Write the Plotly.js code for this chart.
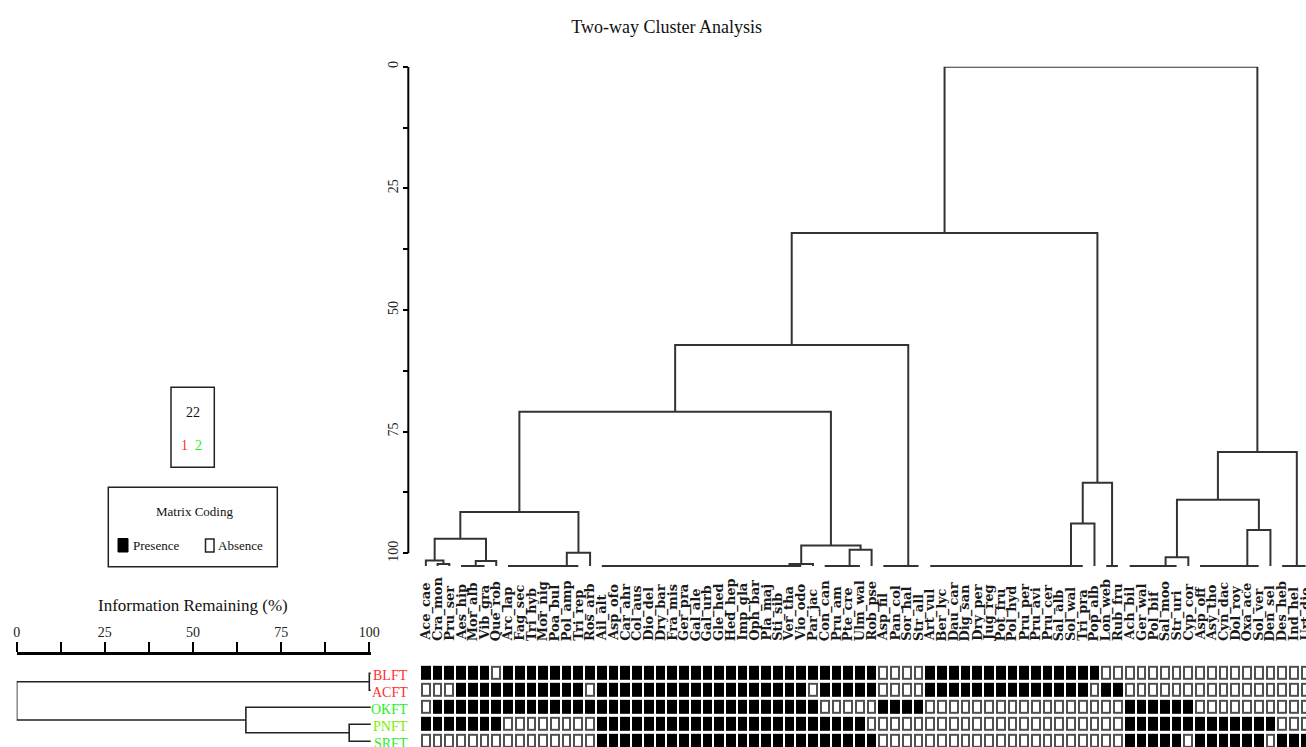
<!DOCTYPE html>
<html><head><meta charset="utf-8">
<script src="https://cdn.plot.ly/plotly-3.0.1.min.js"></script>
<style>html,body{margin:0;padding:0;background:#fff;}#chart{width:1306px;height:747px;}</style>
</head><body><div id="chart"></div>
<script>
// ---------- DATA ----------
const speciesNames = [
 'Ace_cae','Cra_mon','Pru_ser','Aes_hip','Mor_alb','Vib_gra','Que_rob','Arc_lap','Fag_sec','Tri_hyb',
 'Mor_nig','Poa_bul','Pol_amp','Tri_rep','Ros_arb','Ail_alt','Asp_ofo','Car_ahr','Col_aus','Dio_del',
 'Dry_bar','Fra_mis','Ger_pra','Gal_ale','Gal_urb','Gle_hed','Hed_hep','Imp_gla','Oph_bar','Pla_maj',
 'Sti_sib','Ver_tha','Vio_odo','Par_jac','Con_can','Pru_am','Pte_cre','Ulm_wal','Rob_pse','Asp_fil',
 'Pan_col','Sor_hal','Str_all','Art_vul','Ber_lyc','Dau_car','Dig_san','Dry_per','Jug_reg','Pot_fru',
 'Pol_hyd','Pru_per','Pru_avi','Pru_cer','Sal_alb','Sol_wal','Tri_pra','Pop_alb','Lon_web','Rub_fru',
 'Ach_bil','Ger_wal','Pol_bif','Sal_moo','Str_uri','Cyp_cor','Asp_off','Asy_tho','Cyn_dac','Dol_roy',
 'Oxa_ace','Sol_ver','Den_sel','Des_heb','Ind_hel','Urt_dio'
];
const siteNames  = ['BLFT','ACFT','OKFT','PNFT','SRFT'];
const siteColors = ['#ff2e2e','#ff2e2e','#1fef1f','#7ded00','#1fef1f'];

// presence (1) / absence (0) matrix, rows = sites, cols = species
const presBLFT = [1,1,1,1,1,1,0,1,1,1, 1,1,1,1,1,1,1,1,1,1, 1,1,1,1,1,1,1,1,1,1, 1,1,1,1,1,1,1,1,1,0, 0,0,0,1,1,1,1,1,1,1, 1,1,1,1,1,1,1,1,0,0, 0,0,0,0,0,0,0,0,0,0, 0,0,0,0,0,0];
const presACFT = [0,0,0,1,1,1,1,1,1,1, 1,1,1,1,0,1,1,1,1,1, 1,1,1,1,1,1,1,1,1,1, 1,1,1,0,1,1,1,1,1,0, 0,0,0,1,1,1,1,1,1,1, 1,1,1,1,1,1,1,0,1,1, 0,0,0,0,0,0,0,0,0,0, 0,0,0,0,0,0];
const presOKFT = [0,1,1,1,1,1,1,1,1,1, 1,1,1,1,1,1,1,1,1,1, 1,1,1,1,1,1,1,1,1,1, 1,1,1,1,0,0,0,0,0,1, 1,1,1,0,0,0,0,0,0,0, 0,0,0,0,0,0,0,0,0,0, 1,1,1,1,1,1,0,0,0,0, 0,0,0,0,0,0];
const presPNFT = [1,1,1,1,1,1,1,0,0,0, 0,0,0,0,0,1,1,1,1,1, 1,1,1,1,1,1,1,1,1,1, 1,1,1,1,1,1,1,1,0,0, 0,0,0,0,0,0,0,0,0,0, 0,0,0,0,0,0,0,0,0,0, 1,1,1,1,1,1,1,1,1,1, 1,1,1,0,0,0];
const presSRFT = [0,0,0,0,0,0,0,0,0,0, 0,0,0,0,0,1,1,1,1,1, 1,1,1,1,1,1,1,1,1,1, 1,1,1,1,1,1,1,1,1,0, 0,0,0,0,0,0,0,0,0,0, 0,0,0,0,0,0,0,0,0,0, 1,1,1,1,1,0,1,1,1,1, 1,1,0,1,1,1];

// species dendrogram (y = distance value as drawn, 0 at top)
const leafLevel = 102.6;
const chainFirst = [3, 7, 15, 34, 39, 43, 58, 60, 66, 73];
const chainLast  = [5, 13, 32, 37, 42, 56, 59, 64, 71, 75];
const mergeA = ['L1','L0','c0','m1','c1','m3','c2','c3','m6','m5','m9','c5','m11','m10','c7','c8','m14','m16','m13'];
const mergeB = ['L2','m0','L6','m2','L14','m4','L33','L38','m7','m8','c4','L57','c6','m12','L65','L72','m15','c9','m17'];
const mergeH = [102.2,101.5,101.6,97.0,99.9,91.5,102.2,99.3,98.4,70.9,57.2,93.9,85.5,34.2,100.8,95.2,89.0,79.2,0];

// site dendrogram (Information Remaining %)
const rowLeafLevel = 100.4;
const rowMergeA = ['L0','L3','L2','m0'];
const rowMergeB = ['L1','L4','m1','m2'];
const rowMergeH = [100.0, 94.3, 65.0, 0];

const infoTicks = [0, 25, 50, 75, 100];
const distTicks = [0, 25, 50, 75, 100];

// ---------- BUILD ----------
const W = 1306, H = 747;
const px = v => v / W;
const py = v => 1 - v / H;
const serif = 'Liberation Serif, Times New Roman, serif';

const chainPos = chainFirst.map((f, k) => { let p = f; for (let i = f + 1; i <= chainLast[k]; i++) p = (p + i) / 2; return p; });
const mergePos = [];
function nodeOf(ref) {
  const t = ref[0], i = +ref.slice(1);
  if (t === 'L') return { x: i, h: leafLevel };
  if (t === 'c') return { x: chainPos[i], h: leafLevel };
  return mergePos[i];
}
const dx = [], dy = [];
chainFirst.forEach((f, k) => { dx.push(f, chainLast[k], null); dy.push(leafLevel, leafLevel, null); });
mergeH.forEach((h, k) => {
  const a = nodeOf(mergeA[k]), b = nodeOf(mergeB[k]);
  dx.push(a.x, a.x, b.x, b.x, null); dy.push(a.h, h, h, b.h, null);
  mergePos.push({ x: (a.x + b.x) / 2, h: h });
});

const rowPos = [];
function rowNode(ref) {
  const t = ref[0], i = +ref.slice(1);
  if (t === 'L') return { y: i, v: rowLeafLevel };
  return rowPos[i];
}
const rx = [], ry = [];
rowMergeH.forEach((h, k) => {
  const a = rowNode(rowMergeA[k]), b = rowNode(rowMergeB[k]);
  rx.push(a.v, h, h, b.v, null); ry.push(a.y, a.y, b.y, b.y, null);
  rowPos.push({ y: (a.y + b.y) / 2, v: h });
});

const matrix = [presBLFT, presACFT, presOKFT, presPNFT, presSRFT];
const colIdx = speciesNames.map((_, i) => i);
const rowIdx = siteNames.map((_, i) => i);

const traces = [
  { type: 'scatter', mode: 'lines', x: dx, y: dy, xaxis: 'x', yaxis: 'y',
    line: { color: '#333', width: 2 }, hoverinfo: 'skip' },
  { type: 'heatmap', x: colIdx, y: rowIdx, z: matrix, xaxis: 'x2', yaxis: 'y2',
    zmin: 0, zmax: 1, colorscale: [[0, '#505050'], [1, '#000000']], showscale: false,
    xgap: 2, ygap: 3, hoverinfo: 'skip' },
  { type: 'heatmap', x: colIdx, y: rowIdx, z: matrix, xaxis: 'x2', yaxis: 'y2',
    zmin: 0, zmax: 1, colorscale: [[0, '#ffffff'], [1, '#000000']], showscale: false,
    xgap: 6, ygap: 7, hoverinfo: 'skip' },
  { type: 'scatter', mode: 'lines', x: rx, y: ry, xaxis: 'x3', yaxis: 'y2',
    line: { color: '#222', width: 1.6 }, hoverinfo: 'skip' }
];

function note(text, x, y, size, color, xanchor) {
  return { text: text, xref: 'paper', yref: 'paper', x: px(x), y: py(y),
           xanchor: xanchor || 'center', yanchor: 'middle', showarrow: false,
           font: { family: serif, size: size, color: color } };
}

const annotations = [];
speciesNames.forEach((n, i) => annotations.push({
  text: n, xref: 'x', x: i, yref: 'paper', y: py(643), xanchor: 'center', yanchor: 'bottom',
  textangle: -90, showarrow: false, font: { family: 'DejaVu Serif, serif', size: 13, color: '#1a1a1a', weight: 'bold' }
}));
siteNames.forEach((n, i) => annotations.push({
  text: n, xref: 'paper', x: px(410), yref: 'y2', y: i, yshift: -2, xanchor: 'right', yanchor: 'middle',
  showarrow: false, font: { family: serif, size: 14, color: siteColors[i] }
}));
annotations.push(
  note('Information Remaining (%)', 193, 605, 17, '#111'),
  note('22', 192.7, 412.7, 14, '#111'),
  note('1', 184, 445, 14, siteColors[0]),
  note('2', 198.3, 445, 14, siteColors[2]),
  note('Matrix Coding', 194.3, 511.7, 13, '#111'),
  note('Presence', 130.5, 545, 13, '#111', 'left'),
  note('Absence', 216, 545, 13, '#111', 'left')
);

const shapes = [
  { type: 'line', xref: 'paper', x0: px(408.3), x1: px(408.3), yref: 'y', y0: 0, y1: 100,
    line: { color: '#000', width: 2 } },
  { type: 'rect', xref: 'paper', yref: 'paper', x0: px(171), x1: px(214.3), y0: py(387.3), y1: py(467.3),
    line: { color: '#222', width: 1.5 } },
  { type: 'rect', xref: 'paper', yref: 'paper', x0: px(108.3), x1: px(277.3), y0: py(487.3), y1: py(566.7),
    line: { color: '#222', width: 1.5 } },
  { type: 'rect', xref: 'paper', yref: 'paper', x0: px(118), x1: px(128), y0: py(538.5), y1: py(552),
    fillcolor: '#000', line: { color: '#000', width: 1 } },
  { type: 'rect', xref: 'paper', yref: 'paper', x0: px(205.5), x1: px(214), y0: py(539), y1: py(552),
    fillcolor: '#fff', line: { color: '#222', width: 1.5 } }
];

const xRange = [-0.5, -0.5 + (W - 420) / 11.73];
const layout = {
  width: W, height: H,
  margin: { l: 0, r: 0, t: 0, b: 0, pad: 0 },
  paper_bgcolor: '#fff', plot_bgcolor: 'rgba(0,0,0,0)',
  showlegend: false,
  title: { text: 'Two-way Cluster Analysis', x: px(666.7), xanchor: 'center', xref: 'paper',
           y: py(27), yanchor: 'middle', yref: 'paper',
           font: { family: serif, size: 18, color: '#111' } },
  xaxis: { domain: [px(420), 1], range: xRange, visible: false, anchor: 'y' },
  yaxis: { domain: [py(570.3), py(66.7)], range: [103.5, 0], anchor: 'free', position: px(408.3),
           side: 'left', showline: false, showgrid: false, zeroline: false,
           tickvals: distTicks, ticks: 'outside', ticklen: 5, tickwidth: 2, tickcolor: '#000',
           tickangle: -90, tickfont: { family: serif, size: 14, color: '#222' },
           minor: { dtick: 12.5, ticks: 'outside', ticklen: 5, tickwidth: 2, tickcolor: '#000' } },
  xaxis2: { domain: [px(420), 1], range: xRange, visible: false, anchor: 'y2' },
  yaxis2: { domain: [0, py(664.8)], range: [4.335, -0.5], visible: false, anchor: 'x2' },
  xaxis3: { domain: [px(16.7), px(16.7 + 100.5 * 3.526)], range: [0, 100.5], anchor: 'free', position: py(653.3),
            side: 'top', showline: true, linecolor: '#000', linewidth: 2.5, showgrid: false, zeroline: false,
            tickvals: infoTicks, ticks: 'outside', ticklen: 10, tickwidth: 2, tickcolor: '#000',
            tickfont: { family: serif, size: 14, color: '#222' },
            minor: { dtick: 12.5, ticks: 'outside', ticklen: 10, tickwidth: 2, tickcolor: '#000' } },
  annotations: annotations,
  shapes: shapes
};

Plotly.newPlot('chart', traces, layout, { staticPlot: true, displayModeBar: false });
</script>
</body></html>
